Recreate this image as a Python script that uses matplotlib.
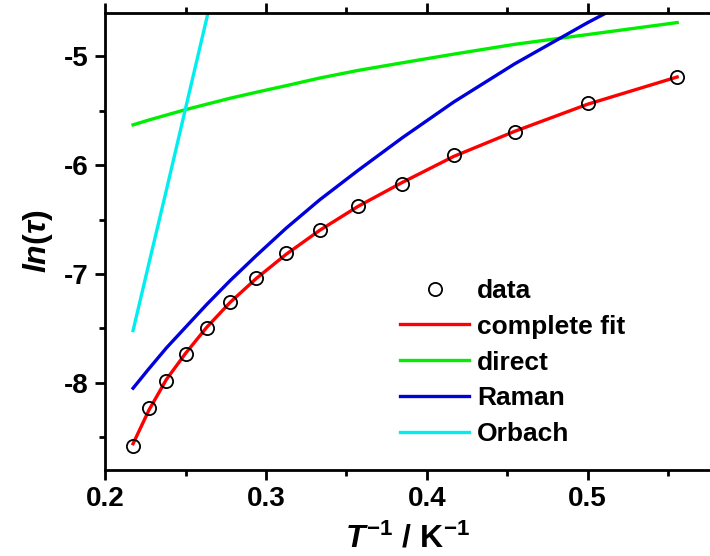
import matplotlib
matplotlib.use("Agg")
import matplotlib.pyplot as plt
from matplotlib.ticker import MultipleLocator

plt.rcParams['font.family'] = ['Liberation Sans', 'DejaVu Sans']
plt.rcParams['axes.unicode_minus'] = False
plt.rcParams['mathtext.fontset'] = 'custom'
plt.rcParams['mathtext.it'] = 'Liberation Sans:bold:italic'
plt.rcParams['mathtext.rm'] = 'Liberation Sans:bold'
plt.rcParams['mathtext.bf'] = 'Liberation Sans:bold'

# inverse temperature, K^-1
inv_T = [0.2174, 0.2273, 0.2381, 0.2500, 0.2632, 0.2778, 0.2941, 0.3125,
         0.3333, 0.3571, 0.3846, 0.4167, 0.4545, 0.5000, 0.5556]
ln_tau = [-8.58, -8.23, -7.98, -7.74, -7.50, -7.26, -7.04, -6.81,
          -6.60, -6.38, -6.17, -5.91, -5.70, -5.43, -5.19]
complete_fit = [-8.56, -8.25, -7.97, -7.73, -7.49, -7.26, -7.04, -6.82,
                -6.60, -6.38, -6.16, -5.92, -5.69, -5.44, -5.19]
direct = [-5.63, -5.585, -5.54, -5.49, -5.44, -5.385, -5.33, -5.27,
          -5.20, -5.13, -5.06, -4.98, -4.89, -4.80, -4.69]
raman = [-8.05, -7.87, -7.68, -7.49, -7.28, -7.06, -6.83, -6.58,
         -6.32, -6.05, -5.75, -5.42, -5.07, -4.69, -4.26]
orbach_x = [0.2174, 0.2273, 0.2381, 0.2500, 0.2632, 0.2778]
orbach = [-7.52, -6.90, -6.23, -5.48, -4.65, -3.74]

fig = plt.figure(figsize=(7.1, 5.56), dpi=100)
ax = fig.add_axes([0.148, 0.155, 0.852, 0.822])

ax.plot(inv_T, ln_tau, 'o', mfc='none', mec='black', ms=9.5, mew=1.3, label='data', zorder=5)
ax.plot(inv_T, complete_fit, color='#ff0000', lw=2.4, label='complete fit')
ax.plot(inv_T, direct, color='#00ee00', lw=2.4, label='direct')
ax.plot(inv_T, raman, color='#0000dd', lw=2.4, label='Raman')
ax.plot(orbach_x, orbach, color='#00eeee', lw=2.4, label='Orbach')

ax.set_xlim(0.2, 0.576)
ax.set_ylim(-8.8, -4.6)
ax.xaxis.set_major_locator(MultipleLocator(0.1))
ax.xaxis.set_minor_locator(MultipleLocator(0.05))
ax.yaxis.set_major_locator(MultipleLocator(1))
ax.yaxis.set_minor_locator(MultipleLocator(0.5))

for s in ['left', 'bottom', 'top']:
    ax.spines[s].set_linewidth(2)
ax.spines['right'].set_visible(False)

ax.tick_params(which='major', direction='out', length=7, width=2,
               labelsize=20, pad=5)
ax.tick_params(which='minor', direction='out', length=4, width=2)
ax.tick_params(axis='x', which='both', top=True, labeltop=False)
for lab in ax.get_xticklabels() + ax.get_yticklabels():
    lab.set_fontweight('bold')

ax.set_xlabel(r'$T^{-1}$ / K$^{-1}$', fontsize=23, fontweight='bold', labelpad=8)
ax.set_ylabel(r'$ln(\tau)$', fontsize=23, labelpad=6)

leg = ax.legend(loc='upper left', bbox_to_anchor=(0.488, 0.418), frameon=False,
                prop={'weight': 'bold', 'size': 19}, handlelength=2.6,
                handletextpad=0.3, labelspacing=0.45, borderaxespad=0,
                borderpad=0)

fig.savefig('out.png', dpi=100)
